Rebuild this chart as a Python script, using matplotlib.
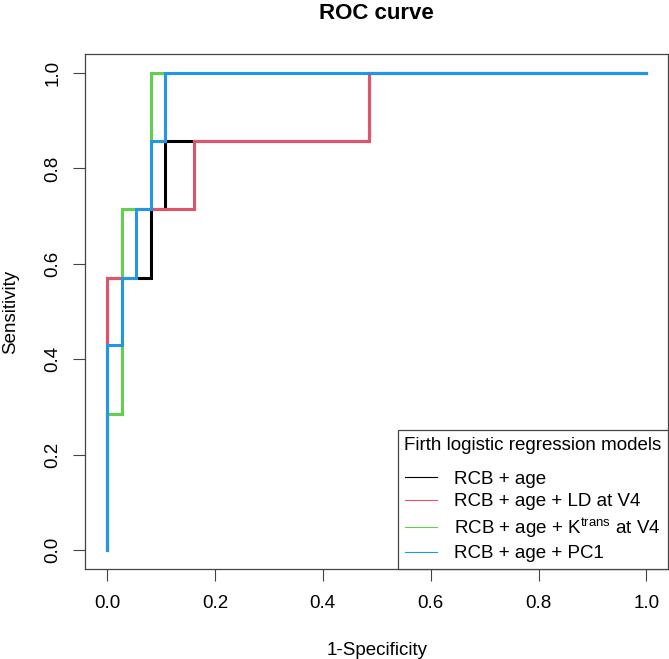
import matplotlib
matplotlib.use("Agg")
import matplotlib.pyplot as plt

# -----------------------------
# ROC curve data (step vertices)
# -----------------------------
model_labels = [
    "RCB + age",
    "RCB + age + LD at V4",
    r"RCB + age + K$^{\mathrm{trans}}$ at V4",
    "RCB + age + PC1",
]
model_colors = ["black", "#DF536B", "#61D04F", "#2297E6"]

fpr_base = [0, 0, 0.081, 0.081, 0.108, 0.108, 0.486, 0.486, 1]
tpr_base = [0, 0.571, 0.571, 0.714, 0.714, 0.857, 0.857, 1, 1]

fpr_ld = [0, 0, 0.027, 0.027, 0.162, 0.162, 0.486, 0.486, 1]
tpr_ld = [0, 0.571, 0.571, 0.714, 0.714, 0.857, 0.857, 1, 1]

fpr_ktrans = [0, 0, 0.027, 0.027, 0.081, 0.081, 1]
tpr_ktrans = [0, 0.286, 0.286, 0.714, 0.714, 1, 1]

fpr_pc1 = [0, 0, 0.027, 0.027, 0.054, 0.054, 0.081, 0.081, 0.108, 0.108, 1]
tpr_pc1 = [0, 0.429, 0.429, 0.571, 0.571, 0.714, 0.714, 0.857, 0.857, 1, 1]

curves = [(fpr_base, tpr_base), (fpr_ld, tpr_ld),
          (fpr_ktrans, tpr_ktrans), (fpr_pc1, tpr_pc1)]

ticks = [0.0, 0.2, 0.4, 0.6, 0.8, 1.0]

# -----------------------------
# Style (R base graphics look)
# -----------------------------
plt.rcParams["font.family"] = ["Liberation Sans", "DejaVu Sans"]
plt.rcParams["mathtext.fontset"] = "custom"
plt.rcParams["mathtext.rm"] = "Liberation Sans"
plt.rcParams["mathtext.it"] = "Liberation Sans:italic"
fs = 13.5

fig = plt.figure(figsize=(6.69, 6.59), dpi=100)
ax = fig.add_axes([0.1278, 0.1366, 0.8707, 0.7815])

for (fpr, tpr), col in zip(curves, model_colors):
    ax.plot(fpr, tpr, color=col, lw=2.2, solid_joinstyle="miter")

ax.set_xlim(-0.04, 1.04)
ax.set_ylim(-0.04, 1.04)
ax.set_xticks(ticks)
ax.set_yticks(ticks)
ax.set_xticklabels([f"{t:.1f}" for t in ticks])
ax.set_yticklabels([f"{t:.1f}" for t in ticks], rotation=90, va="center")
ax.tick_params(axis="both", length=8.5, width=0.8, color="#444444",
               labelsize=fs, direction="out")
ax.tick_params(axis="x", pad=10)
ax.tick_params(axis="y", pad=9)
for sp in ax.spines.values():
    sp.set_color("#444444")
    sp.set_linewidth(0.9)

ax.set_xlabel("1-Specificity", fontsize=fs, labelpad=22)
ax.set_ylabel("Sensitivity", fontsize=fs, labelpad=18)
ax.set_title("ROC curve", fontsize=16, fontweight="bold", pad=25)

# legend with thin lines like the R legend
handles = [plt.Line2D([], [], color=c, lw=0.8) for c in model_colors]
leg = ax.legend(handles, model_labels, title="Firth logistic regression models",
                loc="lower right", borderaxespad=0, fancybox=False,
                framealpha=1, edgecolor="#444444", fontsize=fs,
                title_fontsize=fs, handlelength=1.7, handletextpad=0.9,
                labelspacing=0.3, borderpad=0.35)
leg._legend_box.sep = 12
leg.get_frame().set_linewidth(0.9)

fig.savefig("out.png", dpi=100)
